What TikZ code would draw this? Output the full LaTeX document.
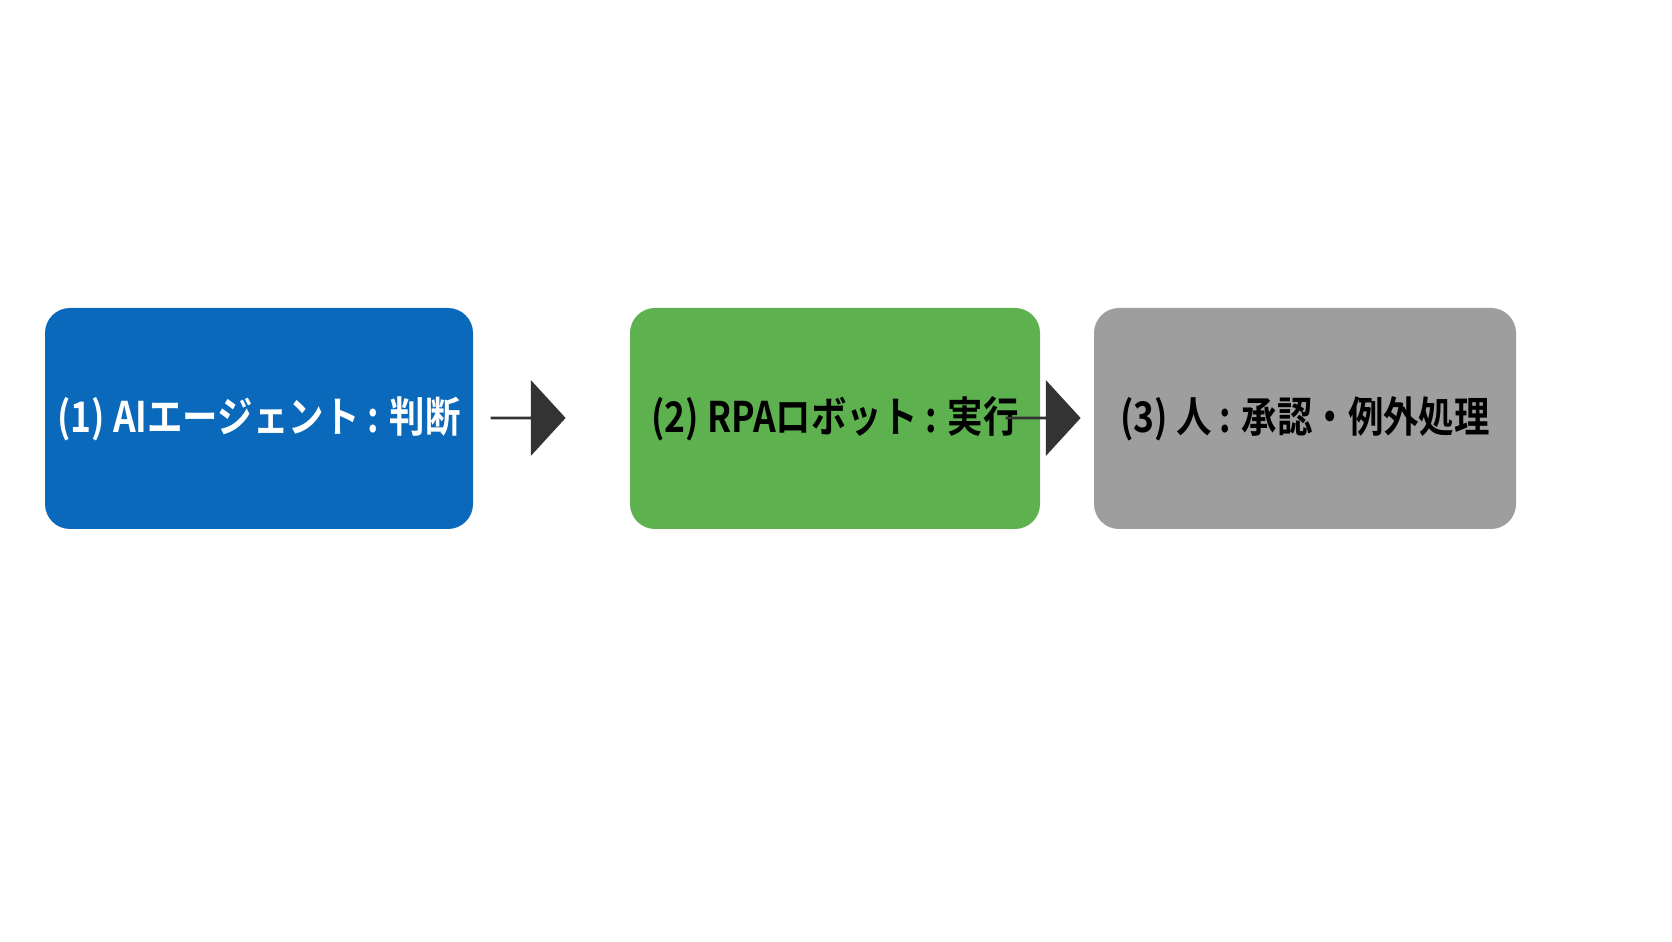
\documentclass[tikz,border=0pt]{standalone}
\usepackage{fontspec}
\newfontfamily\jpfont[FakeStretch=0.84]{Noto Sans CJK JP Bold}
\usetikzlibrary{shapes.arrows}
\definecolor{stepblue}{HTML}{0A69BA}
\definecolor{stepgreen}{HTML}{5DB14E}
\definecolor{stepgray}{HTML}{9E9E9E}
\definecolor{arrowdark}{HTML}{333333}
\tikzset{
  stage/.style={rounded corners=0.25cm, minimum height=2.21cm, inner sep=0pt,
    font=\jpfont\fontsize{12pt}{14pt}\selectfont},
  flow/.style={single arrow, fill=arrowdark, draw=none, minimum width=0.76cm,
    minimum height=0.75cm, single arrow head extend=0.2cm,
    single arrow tip angle=95, inner sep=0pt}
}
\begin{document}
\begin{tikzpicture}
	\useasboundingbox (0,0) rectangle (16.72,9.41);
	\fill[white] (0,0) rectangle (16.72,9.41);
	\node[stage, fill=stepblue, text=white, minimum width=4.28cm] (judge) at (2.59,5.225) {(1) AIエージェント : 判断};
	\node[stage, fill=stepgreen, text=black, minimum width=4.10cm] (robot) at (8.35,5.225) {(2) RPAロボット : 実行};
	\node[stage, fill=stepgray, text=black, minimum width=4.22cm] (human) at (13.05,5.225) {(3) 人 : 承認・例外処理};
	\node[flow] (flowa) at (5.275,5.23) {};
	\node[flow] (flowb) at (10.425,5.23) {};
\end{tikzpicture}
\end{document}
